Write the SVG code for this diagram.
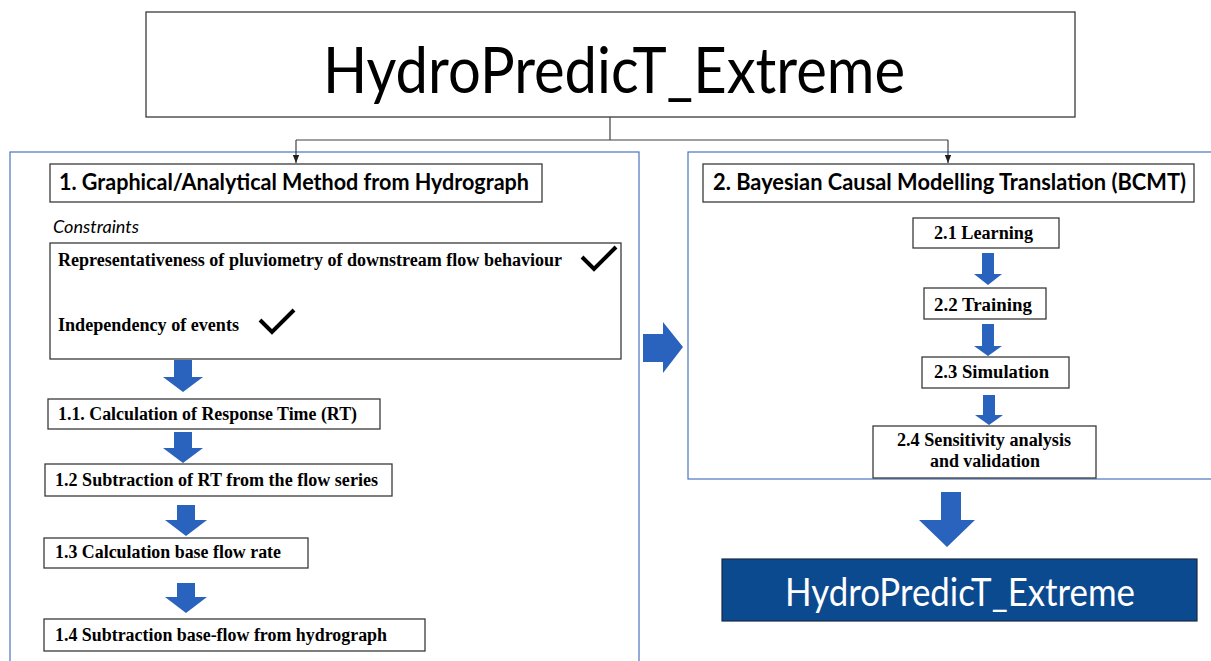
<svg xmlns="http://www.w3.org/2000/svg" width="1211" height="661" viewBox="0 0 1211 661">
  <defs>
    <style>
      .box { fill: #ffffff; stroke: #3a3a3a; stroke-width: 1.3; }
      .panel { fill: none; stroke: #4a74c0; stroke-width: 1.2; }
      .blk { fill: #2a63be; }
      .conn { fill: none; stroke: #404040; stroke-width: 1.2; }
      .tick { fill: none; stroke: #000000; stroke-width: 4; stroke-linecap: butt; stroke-linejoin: miter; }
      .sans { font-family: Lato, "Open Sans", "Liberation Sans", sans-serif; fill: #000000; }
      .serif { font-family: "Liberation Serif", "Times New Roman", serif; font-weight: bold; font-size: 18.5px; fill: #000000; }
      .head { font-size: 23px; font-weight: bold; }
    </style>
    <marker id="tip" viewBox="0 0 10 10" refX="10" refY="5" markerWidth="7" markerHeight="7" orient="auto">
      <path d="M0,1 L10,5 L0,9 Z" fill="#202020"/>
    </marker>
  </defs>

  <rect width="1211" height="661" fill="#ffffff"/>

  <!-- section panels -->
  <g id="panel-left">
    <rect class="panel" x="10" y="152" width="629" height="520"/>
  </g>
  <g id="panel-right">
    <rect class="panel" x="688" y="152" width="540" height="327"/>
  </g>

  <!-- title -->
  <g id="title">
    <rect class="box" x="146" y="12" width="929" height="105"/>
    <text class="sans" x="323" y="93" font-size="63" textLength="582" lengthAdjust="spacingAndGlyphs">HydroPredicT_Extreme</text>
  </g>

  <!-- tree connectors from the title -->
  <g id="connectors">
    <path class="conn" d="M610,117 V140"/>
    <path class="conn" d="M296,140 H948"/>
    <path class="conn" d="M296,140 V163" marker-end="url(#tip)"/>
    <path class="conn" d="M948,140 V163" marker-end="url(#tip)"/>

    <!-- block arrows, method 1 -->
    <path class="blk" d="M174,360 H192 V377 H203 L183,392 L163,377 H174 Z"/>
    <path class="blk" d="M174,432 H192 V448 H203 L183,463 L163,448 H174 Z"/>
    <path class="blk" d="M177,505 H195 V520 H207 L186,536 L165,520 H177 Z"/>
    <path class="blk" d="M177,583 H195 V597 H207 L186,613 L165,597 H177 Z"/>

    <!-- arrow between the two methods -->
    <path class="blk" d="M643,334 H663 V322 L683,347 L663,373 V362 H643 Z"/>

    <!-- block arrows, method 2 -->
    <path class="blk" d="M982,253 H994 V274 H1002 L988,285 L974,274 H982 Z"/>
    <path class="blk" d="M982,324 H994 V346 H1002 L988,356 L974,346 H982 Z"/>
    <path class="blk" d="M983,395 H995 V415 H1003 L989,425 L975,415 H983 Z"/>

    <!-- arrow to the result -->
    <path class="blk" d="M941,492 H961 V520 H975 L947,547 L919,520 H941 Z"/>
  </g>

  <!-- method 1 -->
  <g id="method1-header">
    <rect class="box" x="50" y="164" width="492" height="38"/>
    <text class="sans head" x="59" y="190" textLength="470" lengthAdjust="spacingAndGlyphs">1. Graphical/Analytical Method from Hydrograph</text>
  </g>

  <g id="constraints-label">
    <text class="sans" x="53" y="233" font-size="16.5" font-style="italic" textLength="86" lengthAdjust="spacingAndGlyphs">Constraints</text>
  </g>

  <g id="constraints">
    <rect class="box" x="50" y="243" width="571" height="116"/>
    <text class="serif" x="58" y="266" textLength="504" lengthAdjust="spacingAndGlyphs">Representativeness of pluviometry  of downstream flow behaviour</text>
    <path class="tick" d="M582,257 L594,269 L616,247"/>
    <text class="serif" x="58" y="331" textLength="181" lengthAdjust="spacingAndGlyphs">Independency of events</text>
    <path class="tick" d="M260,320 L272,332 L294,310"/>
  </g>

  <g id="step-1-1">
    <rect class="box" x="48" y="399" width="332" height="30"/>
    <text class="serif" x="58" y="420" textLength="299" lengthAdjust="spacingAndGlyphs">1.1. Calculation of Response Time (RT)</text>
  </g>
  <g id="step-1-2">
    <rect class="box" x="45" y="464" width="347" height="32"/>
    <text class="serif" x="55" y="486" textLength="323" lengthAdjust="spacingAndGlyphs">1.2 Subtraction of RT from the flow series</text>
  </g>
  <g id="step-1-3">
    <rect class="box" x="44" y="538" width="264" height="30"/>
    <text class="serif" x="55" y="558" textLength="226" lengthAdjust="spacingAndGlyphs">1.3 Calculation base flow rate</text>
  </g>
  <g id="step-1-4">
    <rect class="box" x="44" y="619" width="381" height="32"/>
    <text class="serif" x="55" y="641" textLength="332" lengthAdjust="spacingAndGlyphs">1.4 Subtraction base-flow from hydrograph</text>
  </g>

  <!-- method 2 -->
  <g id="method2-header">
    <rect class="box" x="703" y="164" width="491" height="38"/>
    <text class="sans head" x="713" y="190" textLength="473" lengthAdjust="spacingAndGlyphs">2. Bayesian Causal Modelling Translation (BCMT)</text>
  </g>

  <g id="step-2-1">
    <rect class="box" x="913" y="218" width="146" height="30"/>
    <text class="serif" x="934" y="239" textLength="99" lengthAdjust="spacingAndGlyphs">2.1 Learning</text>
  </g>
  <g id="step-2-2">
    <rect class="box" x="924" y="288" width="122" height="31"/>
    <text class="serif" x="934" y="311" textLength="98" lengthAdjust="spacingAndGlyphs">2.2 Training</text>
  </g>
  <g id="step-2-3">
    <rect class="box" x="922" y="357" width="147" height="31"/>
    <text class="serif" x="934" y="378" textLength="115" lengthAdjust="spacingAndGlyphs">2.3 Simulation</text>
  </g>
  <g id="step-2-4">
    <rect class="box" x="873" y="426" width="223" height="52"/>
    <text class="serif" x="897" y="446" textLength="174" lengthAdjust="spacingAndGlyphs">2.4 Sensitivity analysis</text>
    <text class="serif" x="930" y="467" textLength="110" lengthAdjust="spacingAndGlyphs">and validation</text>
  </g>

  <!-- result -->
  <g id="result">
    <rect x="722" y="559" width="475" height="62" fill="#0c4a8f" stroke="#1a2a44" stroke-width="1.2"/>
    <text class="sans" x="785" y="606" font-size="38" style="fill:#ffffff" textLength="350" lengthAdjust="spacingAndGlyphs">HydroPredicT_Extreme</text>
  </g>
</svg>
